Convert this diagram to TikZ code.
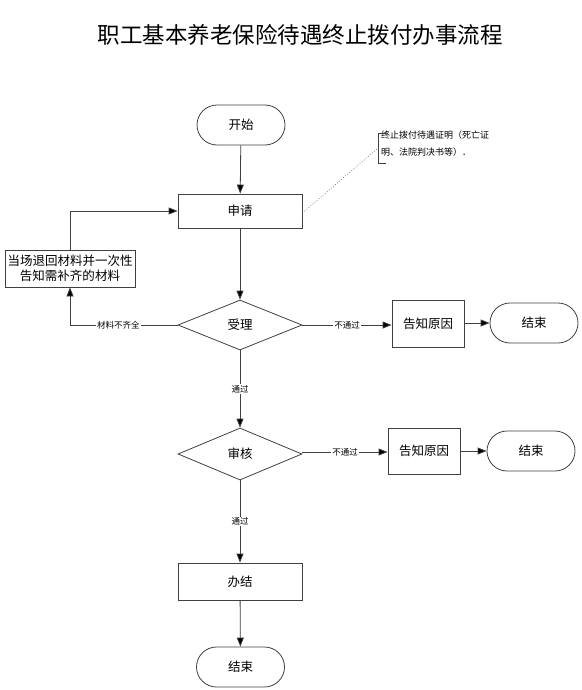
\documentclass[tikz,border=0pt]{standalone}
\usepackage{fontspec}
\setmainfont{Noto Sans CJK SC}
\usetikzlibrary{shapes.geometric,shapes.misc,arrows.meta}
\begin{document}
\begin{tikzpicture}[x=1pt,y=-1pt,
  line/.style={draw=black!75,line width=0.8pt},
  arr/.style={line,-{Triangle[length=9pt,width=7pt,fill=black]}},
  term/.style={draw=black!75,line width=0.8pt,rounded rectangle,minimum width=88pt,minimum height=40pt,font=\fontsize{12.5}{14}\selectfont,inner sep=0pt},
  proc/.style={draw=black!75,line width=0.8pt,rectangle,minimum width=124pt,minimum height=34pt,font=\fontsize{12.5}{14}\selectfont,inner sep=0pt},
  dec/.style={draw=black!75,line width=0.8pt,diamond,aspect=2.4,minimum width=124pt,minimum height=50pt,font=\fontsize{12.5}{14}\selectfont,inner sep=0pt},
  lbl/.style={fill=white,font=\fontsize{8.5}{9}\selectfont,inner sep=1pt}
]
\useasboundingbox (0,0) rectangle (581,690);
\node[font=\fontsize{22.5}{26}\selectfont] (title) at (300,35) {职工基本养老保险待遇终止拨付办事流程};

\node[term] (start) at (241,125) {开始};
\node[proc] (apply) at (240,211) {申请};
\node[draw=black!75,line width=0.8pt,minimum width=130pt,minimum height=37pt,align=center,inner sep=0pt,font=\fontsize{12.5}{15}\selectfont] (ret) at (70,268.5) {当场退回材料并一次性\\告知需补齐的材料};
\node[dec] (acc) at (240,325) {受理};
\node[draw=black!75,line width=0.8pt,minimum width=72pt,minimum height=47pt,inner sep=0pt,font=\fontsize{12.5}{14}\selectfont] (r1) at (428,323.5) {告知原因};
\node[term] (e1) at (534,323) {结束};
\node[dec,minimum height=52pt] (rev) at (240,454) {审核};
\node[draw=black!75,line width=0.8pt,minimum width=72pt,minimum height=46pt,inner sep=0pt,font=\fontsize{12.5}{14}\selectfont] (r2) at (424,451) {告知原因};
\node[term] (e2) at (531,451) {结束};
\node[proc,minimum height=37pt] (done) at (240,581.5) {办结};
\node[term] (e3) at (240.5,667) {结束};

% annotation
\node[anchor=north west,align=left,inner sep=0pt,font=\fontsize{9}{17}\selectfont] (note) at (381,131) {终止拨付待遇证明（死亡证\\明、法院判决书等）．};
\coordinate (nb) at (378,148);
\draw[black!75,line width=0.8pt] (386,133) -- (378,133) -- (378,163) -- (386,163);
\draw[black!60,line width=0.7pt,dotted] (apply.east |- 0,213) -- (nb);

% connectors
\draw[arr] (start) -- (apply);
\draw[arr] (apply) -- (acc);
\draw[arr] (acc.west) -- (70,325) node[lbl,pos=0.55] {材料不齐全} -- (ret.south);
\draw[arr] (ret.north) |- (apply.west);
\draw[arr] (acc.east) -- node[lbl] {不通过} (r1.west |- acc.east);
\draw[arr] (r1.east |- e1.west) -- (e1.west);
\draw[arr] (acc.south) -- node[lbl] {通过} (rev.north);
\draw[arr] (rev.east |- 0,452) -- node[lbl] {不通过} (r2.west |- 0,452);
\draw[arr] (r2.east) -- (e2.west);
\draw[arr] (rev.south) -- node[lbl] {通过} (done.north);
\draw[arr] (done) -- (e3);
\end{tikzpicture}
\end{document}
